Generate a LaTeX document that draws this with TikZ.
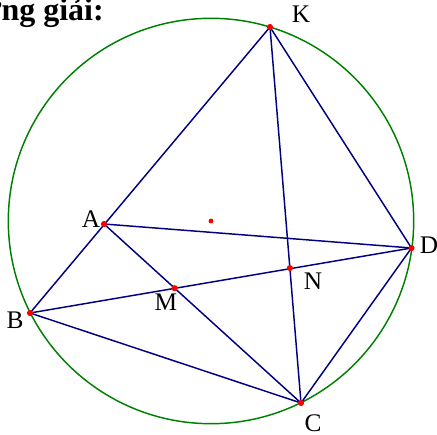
\documentclass[tikz,border=0pt]{standalone}
\usepackage{fontspec}
\setmainfont{Liberation Serif}
\usetikzlibrary{positioning, calc}

\begin{document}
\begin{tikzpicture}[
    x=0.75pt, y=-0.75pt,
    seg/.style={line width=1.1pt, color=navyline},
    circ/.style={line width=1.1pt, color=greenline},
    pt/.style={circle, fill=red, inner sep=0pt, minimum size=4.6pt},
    ctr/.style={circle, fill=red, inner sep=0pt, minimum size=3.6pt},
    lbl/.style={inner sep=0pt, font=\fontsize{19}{22}\selectfont},
    heading/.style={inner sep=0pt, anchor=base east, font=\fontsize{24}{28}\selectfont\bfseries},
]
\definecolor{navyline}{RGB}{0,0,128}
\definecolor{greenline}{RGB}{0,128,0}

% Frame
\useasboundingbox (0,0) rectangle (437,435);
\clip (0,0) rectangle (437,435);

% Points
\coordinate (O) at (211,221);
\coordinate (K) at (270,27);
\coordinate (A) at (104,224);
\coordinate (B) at (30,313);
\coordinate (C) at (301,403);
\coordinate (D) at (411.5,248);
\coordinate (M) at ($(A)!0.3585!(C)$);
\coordinate (N) at ($(K)!0.641!(C)$);

% Heading
\node[heading] (title) at (104,21) {Hướng giải:};

% Circle
\draw[circ] (O) circle [radius=202.7];

% Segments
\draw[seg] (K) -- (B);
\draw[seg] (K) -- (D);
\draw[seg] (K) -- (C);
\draw[seg] (A) -- (D);
\draw[seg] (A) -- (C);
\draw[seg] (B) -- (D);
\draw[seg] (B) -- (C);
\draw[seg] (C) -- (D);

% Dots
\node[ctr] (o) at (O) {};
\foreach \p in {K,A,B,C,D,M,N}
    \node[pt] (dot\p) at (\p) {};

% Labels
\node[lbl] (lK) at (301,14) {K};
\node[lbl] (lA) at (91,219) {A};
\node[lbl] (lB) at (15,320) {B};
\node[lbl] (lC) at (313,423) {C};
\node[lbl] (lD) at (429,245) {D};
\node[lbl] (lM) at (166,302) {M};
\node[lbl] (lN) at (313,281) {N};

\end{tikzpicture}
\end{document}
